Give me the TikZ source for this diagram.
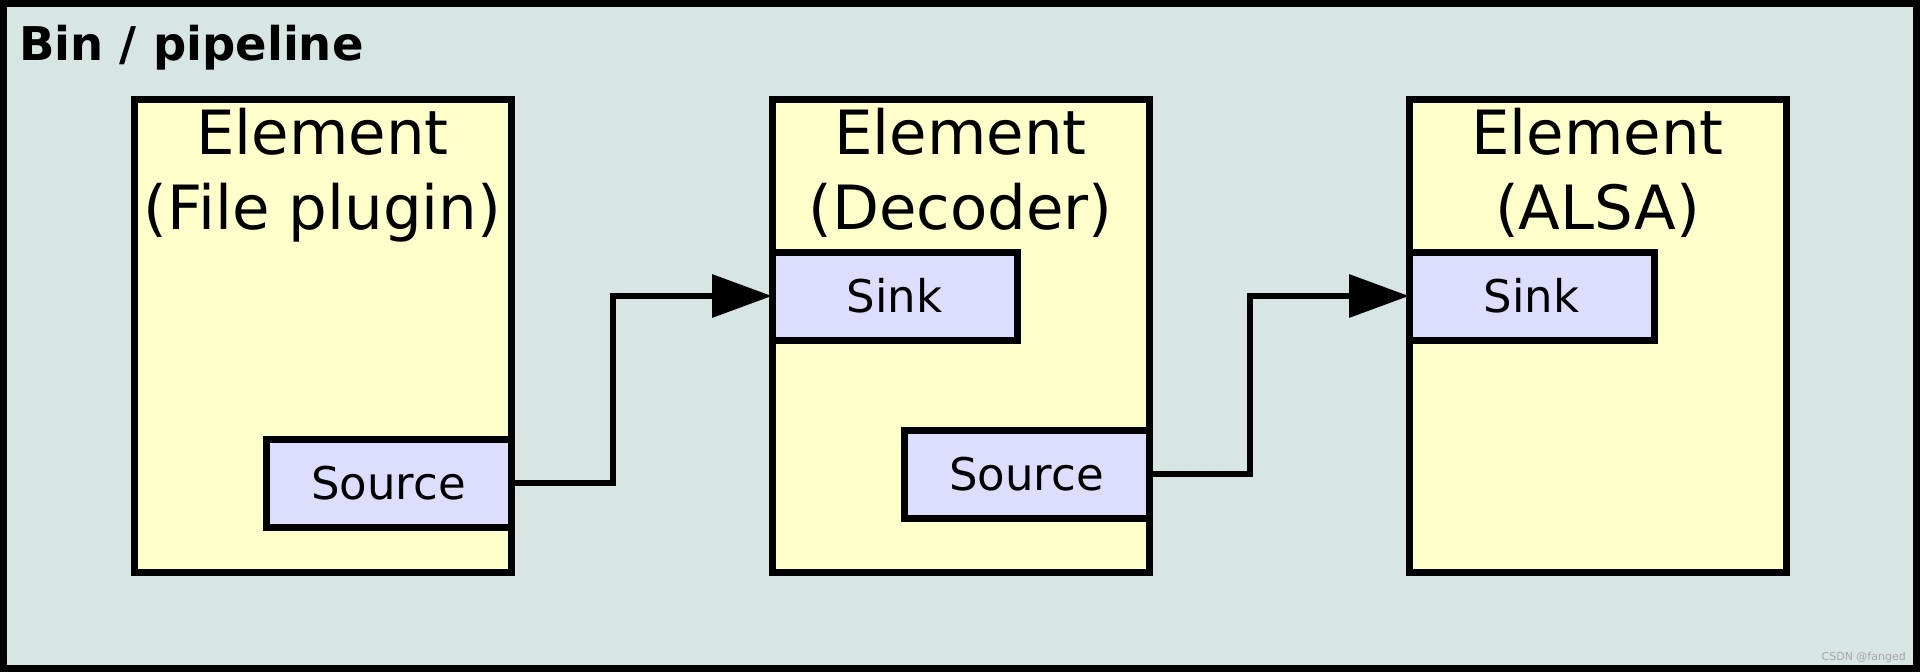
\documentclass[tikz,border=0pt]{standalone}
\usepackage{fontspec}
\setmainfont{DejaVu Sans}
\usetikzlibrary{arrows.meta}
\definecolor{binbg}{RGB}{215,229,229}
\definecolor{elemfill}{RGB}{255,255,204}
\definecolor{padfill}{RGB}{221,221,255}
\tikzset{
  elem/.style={draw=black, line width=7pt, fill=elemfill, rectangle,
    minimum width=377pt, minimum height=473pt, inner sep=0pt, outer sep=0pt, anchor=north west},
  pad/.style={draw=black, line width=7pt, fill=padfill, rectangle,
    minimum width=245pt, minimum height=88pt, inner sep=0pt, outer sep=0pt,
    font=\fontsize{45}{54}\selectfont, text height=33pt, text depth=0pt},
  etitle/.style={align=center, inner sep=0pt, anchor=north, font=\fontsize{61}{75}\selectfont},
  conn/.style={line width=6.5pt, -{Triangle[length=60pt,width=42pt]}, line join=miter}
}
\begin{document}
\begin{tikzpicture}[x=1pt,y=-1pt]
\useasboundingbox (0,0) rectangle (1920,672);
\draw[line width=7pt, fill=binbg] (3.5,3.5) rectangle (1916.5,668.5);
\node[anchor=base west, inner sep=0pt, font=\bfseries\fontsize{46.5}{56}\selectfont] (bin) at (19,60) {Bin / pipeline};

\node[elem] (e1) at (134,99) {};
\node[elem] (e2) at (772,99) {};
\node[elem] (e3) at (1409,99) {};

\node[etitle] (e1t) at ([yshift=-9pt]e1.north) {Element\\(File plugin)};
\node[etitle] (e2t) at ([yshift=-9pt]e2.north) {Element\\(Decoder)};
\node[etitle] (e3t) at ([yshift=-9pt]e3.north) {Element\\(ALSA)};

\node[pad, anchor=north east] (s1) at (511,439) {Source};
\node[pad, anchor=north west] (k2) at (772,252) {Sink};
\node[pad, anchor=north east] (s2) at (1149,430) {Source};
\node[pad, anchor=north west] (k3) at (1409,252) {Sink};

\draw[conn] (s1.east) -- ++(102,0) |- (k2.west);
\draw[conn] (s2.east) -- ++(101,0) |- (k3.west);

\node[anchor=east, inner sep=0pt, font=\fontsize{11}{13}\selectfont, text=gray!70] (wm) at (1906,657) {CSDN @fanged};
\end{tikzpicture}
\end{document}
